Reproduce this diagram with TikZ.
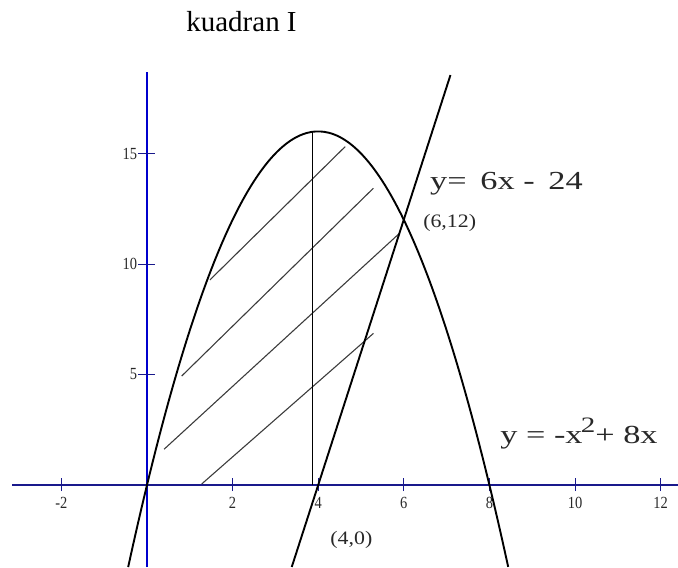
\documentclass[tikz,border=0pt]{standalone}
\usepackage{fontspec}
\setmainfont{Liberation Serif}
\definecolor{yaxisblue}{RGB}{0,0,205}
\definecolor{xaxisblue}{RGB}{25,25,140}
\definecolor{hatchgray}{RGB}{60,60,60}
\definecolor{labelgray}{RGB}{40,40,40}

\begin{document}
\begin{tikzpicture}[x=42.8pt,y=22.1pt]
   \tikzstyle{every node}=[font=\fontsize{15}{15}\selectfont, text=labelgray, inner sep=0pt]
   \tikzstyle{axisline}=[line width=2.4pt]
   \tikzstyle{curve}=[line width=1.9pt, black]
   \tikzstyle{hatch}=[line width=1.1pt, hatchgray]
   \tikzstyle{ticklabel}=[font=\fontsize{17}{17}\selectfont, xscale=0.85]
   \tikzstyle{eqlabel}=[font=\fontsize{26}{26}\selectfont, xscale=1.32, anchor=base west]
   \tikzstyle{ptlabel}=[font=\fontsize{19}{19}\selectfont, xscale=1.15, anchor=base west]

   \useasboundingbox (-3.4346,-3.7104) rectangle (12.4065,21.946);

% title
   \node[font=\fontsize{29}{29}\selectfont, text=black, anchor=base] (title) at (2.208,20.50) {kuadran I};

% axes
   \draw[axisline, xaxisblue] (-3.15,0) -- (12.41,0);
   \draw[axisline, yaxisblue] (0,-3.72) -- (0,18.69);
   \foreach \x in {-2,2,4,6,8,10,12} {
      \draw[xaxisblue, line width=1pt] (\x,-0.28) -- (\x,0.32);
      \node[ticklabel] (xl\x) at (\x,-0.80) {\x};
   }
   \foreach \y in {5,10,15} {
      \draw[xaxisblue, line width=1pt] (-0.21,\y) -- (0.19,\y);
      \node[ticklabel, anchor=east] (yl\y) at (-0.23,\y) {\y};
   }

% hatch lines
   \draw[hatch] (1.47,9.28) -- (4.63,15.31);
   \draw[hatch] (0.81,4.93) -- (5.29,13.43);
   \draw[hatch] (0.40,1.62) -- (5.90,11.39);
   \draw[hatch] (1.28,0.05) -- (5.29,6.86);

% boundary of the region
   \draw[line width=0.9pt] (3.86,15.98) -- (3.86,0);
   \draw[curve] plot[domain=-0.44:8.44, samples=90, smooth] (\x,{-(\x)^2+8*\x});
   \draw[curve] (3.382,-3.71) -- (7.09,18.55);

% labels
   \node[eqlabel] (lineeq) at (6.61,13.35) {y=\hspace{0.4em}6x\hspace{0.25em}-\hspace{0.4em}24};
   \node[ptlabel] (meet) at (6.45,11.63) {(6,12)};
   \node[eqlabel] (parabeq) at (8.25,1.90) {y = -x\hspace{-0.05em}\raisebox{0.42em}{\fontsize{22}{22}\selectfont 2}+ 8x};
   \node[ptlabel] (root) at (4.28,-2.71) {(4,0)};

\end{tikzpicture}
\end{document}
